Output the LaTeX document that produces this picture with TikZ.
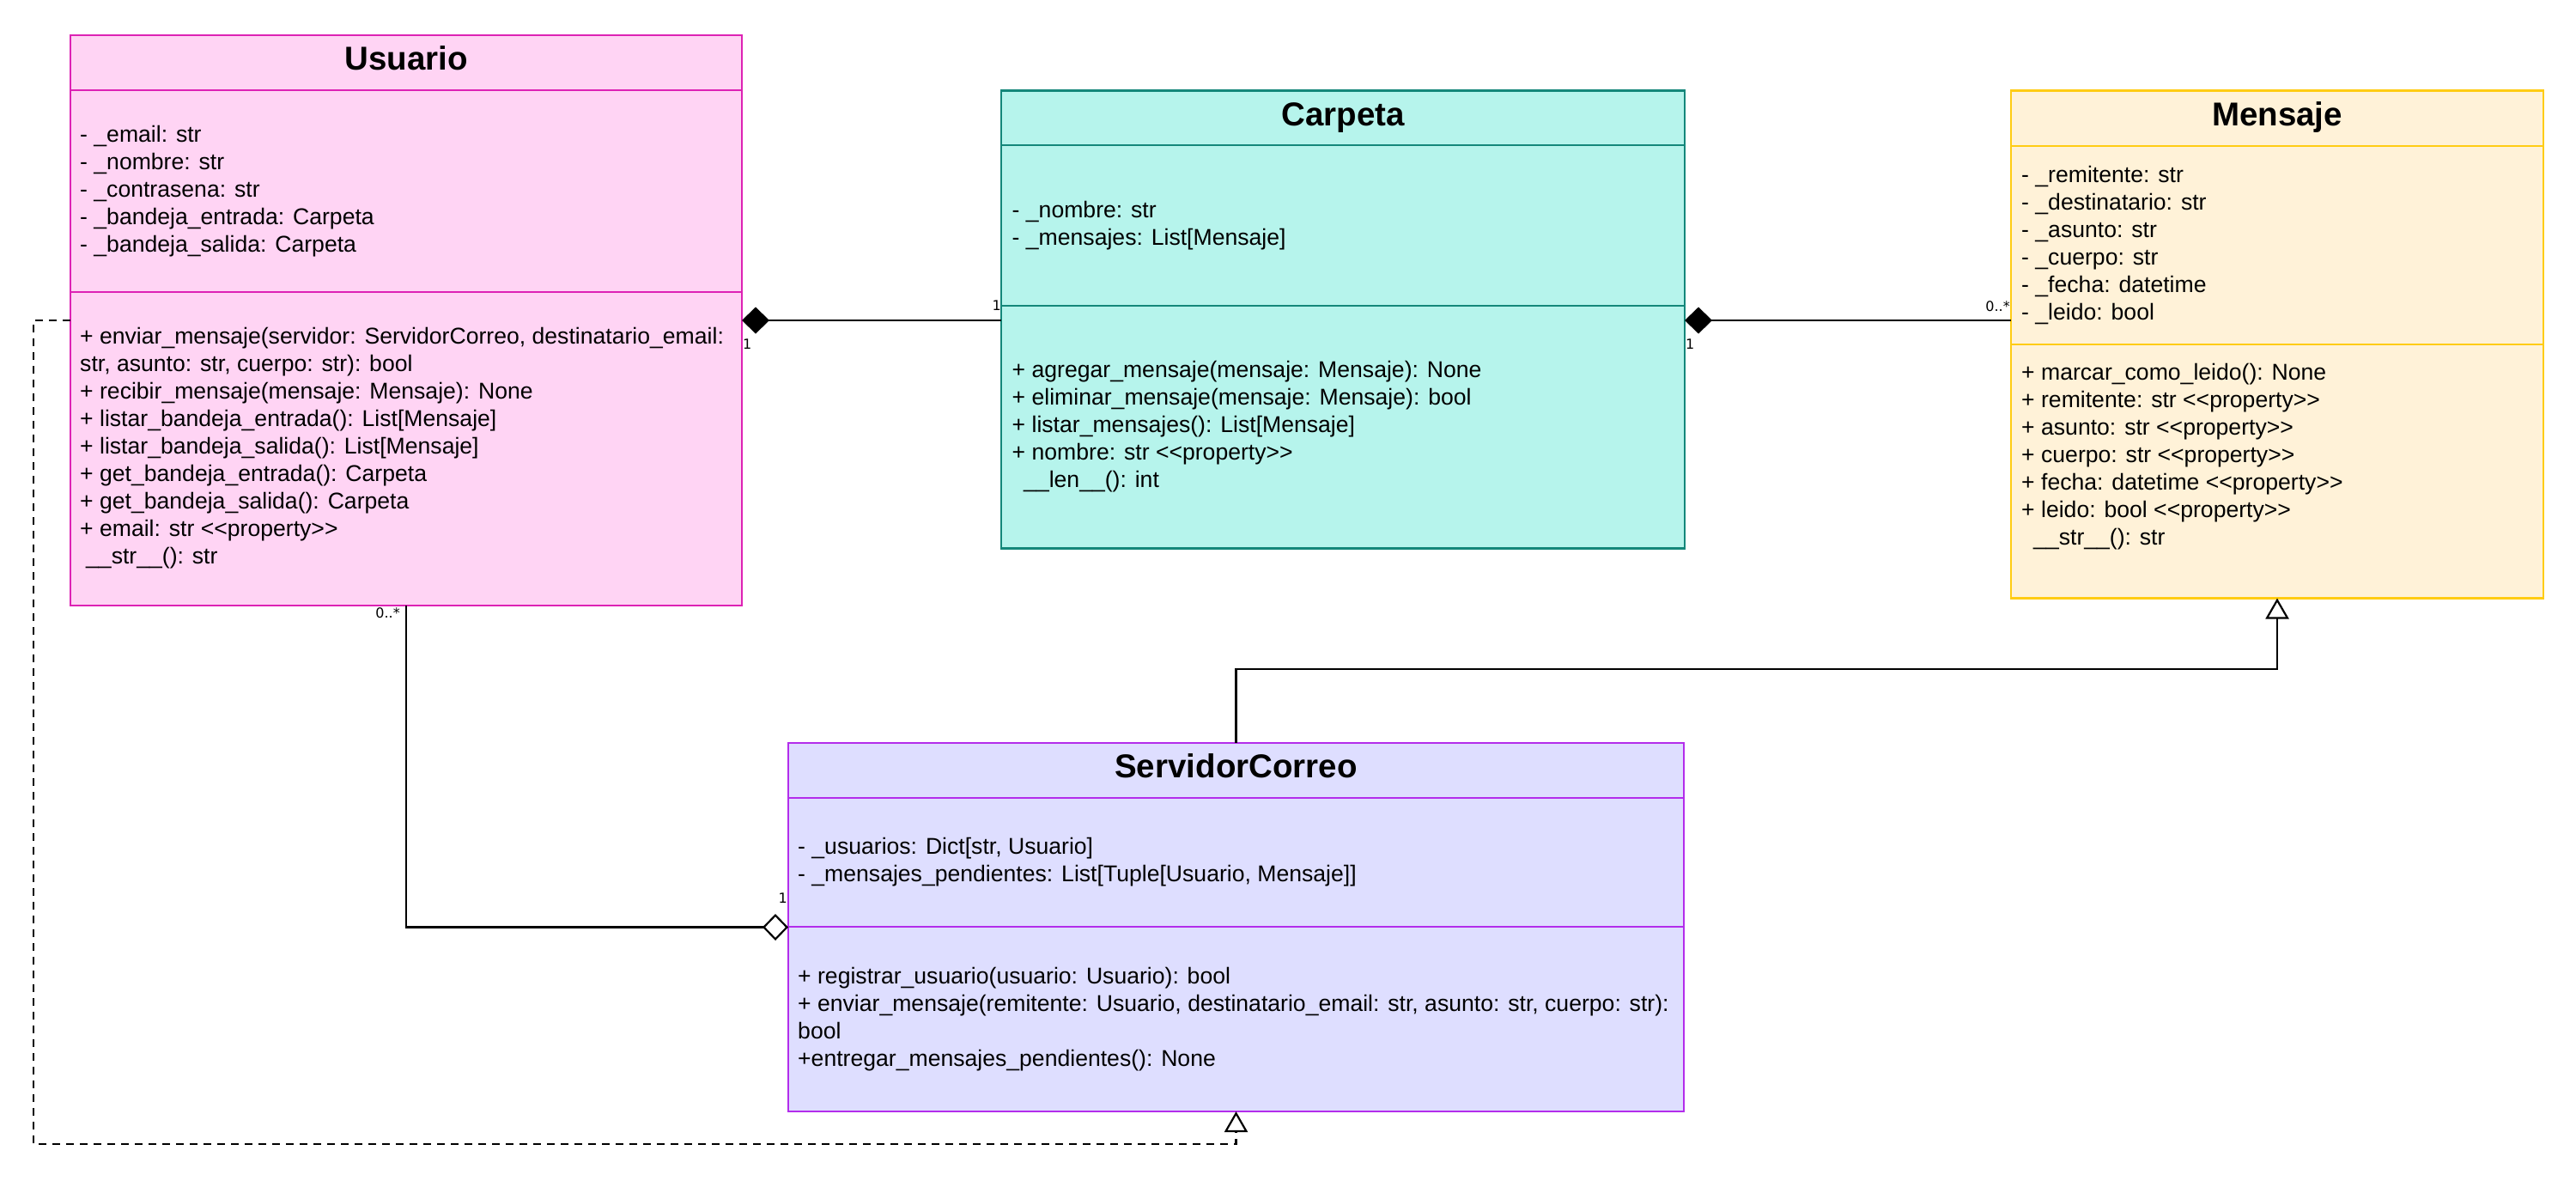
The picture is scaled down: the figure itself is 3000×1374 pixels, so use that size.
\documentclass[tikz,border=0pt]{standalone}
\usepackage{fontspec}
\usetikzlibrary{arrows.meta}
\newfontfamily\umlfont{Liberation Sans}
\newfontfamily\labfont{DejaVu Sans}
\definecolor{usufill}{HTML}{FFD4F4}
\definecolor{usudraw}{HTML}{DD22B4}
\definecolor{carfill}{HTML}{B6F4EC}
\definecolor{cardraw}{HTML}{14877A}
\definecolor{menfill}{HTML}{FFF2D8}
\definecolor{mendraw}{HTML}{FFCC14}
\definecolor{serfill}{HTML}{DEDEFF}
\definecolor{serdraw}{HTML}{B32DEB}
\newcommand\pty{<\kern0pt<property>\kern0pt>}
\newcommand\tline[4]{\node[txt] (#1) at (#2,#3) {#4};}
\tikzset{
  classbox/.style={draw, line width=2.2pt, inner sep=0pt, outer sep=0pt, anchor=north west},
  sepline/.style={line width=2.2pt},
  title/.style={font=\umlfont\bfseries\fontsize{38.5}{46}\selectfont, anchor=base, inner sep=0pt},
  txt/.style={font=\umlfont\fontsize{26.6}{32}\selectfont, anchor=base west, inner sep=0pt},
  mult/.style={font=\labfont\fontsize{16}{19}\selectfont, inner sep=0pt},
  conn/.style={line width=2.2pt, black},
  compo/.style={conn, {Diamond[length=32pt,width=31pt]}-},
  aggr/.style={conn, -{Diamond[length=30pt,width=31pt,fill=white]}},
  gener/.style={conn, -{Triangle[length=24pt,width=27pt,fill=white]}},
  realiz/.style={conn, dash pattern=on 9pt off 7pt, -{Triangle[length=24pt,width=27pt,fill=white]}},
}
\begin{document}
\begin{tikzpicture}[x=1pt,y=-1pt]
\useasboundingbox[fill=white] (0,0) rectangle (3000,1374);

% ---------- Usuario ----------
\node[classbox, fill=usufill, draw=usudraw, minimum width=782pt, minimum height=664pt] (usuario) at (82,41) {};
\draw[sepline, usudraw] (usuario.west |- 0,105) -- (usuario.east |- 0,105);
\draw[sepline, usudraw] (usuario.west |- 0,340) -- (usuario.east |- 0,340);
\node[title] (usuT) at (473,81.5) {Usuario};
\tline{ua1}{93}{165}{- \_email: str}
\tline{ua2}{93}{197}{- \_nombre: str}
\tline{ua3}{93}{229}{- \_contrasena: str}
\tline{ua4}{93}{261}{- \_bandeja\_entrada: Carpeta}
\tline{ua5}{93}{293}{- \_bandeja\_salida: Carpeta}
\tline{um1}{93}{400}{+ enviar\_mensaje(servidor: ServidorCorreo, destinatario\_email:}
\tline{um2}{93}{432}{str, asunto: str, cuerpo: str): bool}
\tline{um3}{93}{464}{+ recibir\_mensaje(mensaje: Mensaje): None}
\tline{um4}{93}{496}{+ listar\_bandeja\_entrada(): List[Mensaje]}
\tline{um5}{93}{528}{+ listar\_bandeja\_salida(): List[Mensaje]}
\tline{um6}{93}{560}{+ get\_bandeja\_entrada(): Carpeta}
\tline{um7}{93}{592}{+ get\_bandeja\_salida(): Carpeta}
\tline{um8}{93}{624}{+ email: str \pty}
\tline{um9}{100}{656}{\_\_str\_\_(): str}

% ---------- Carpeta ----------
\node[classbox, fill=carfill, draw=cardraw, minimum width=796pt, minimum height=533pt] (carpeta) at (1166,105.5) {};
\draw[sepline, cardraw] (carpeta.west |- 0,169) -- (carpeta.east |- 0,169);
\draw[sepline, cardraw] (carpeta.west |- 0,356) -- (carpeta.east |- 0,356);
\node[title] (carT) at (1564,146) {Carpeta};
\tline{ca1}{1178.5}{253}{- \_nombre: str}
\tline{ca2}{1178.5}{285}{- \_mensajes: List[Mensaje]}
\tline{cm1}{1178.5}{439}{+ agregar\_mensaje(mensaje: Mensaje): None}
\tline{cm2}{1178.5}{471}{+ eliminar\_mensaje(mensaje: Mensaje): bool}
\tline{cm3}{1178.5}{503}{+ listar\_mensajes(): List[Mensaje]}
\tline{cm4}{1178.5}{535}{+ nombre: str \pty}
\tline{cm5}{1192}{567}{\_\_len\_\_(): int}

% ---------- Mensaje ----------
\node[classbox, fill=menfill, draw=mendraw, minimum width=620pt, minimum height=591pt] (mensaje) at (2342,105.5) {};
\draw[sepline, mendraw] (mensaje.west |- 0,170) -- (mensaje.east |- 0,170);
\draw[sepline, mendraw] (mensaje.west |- 0,401) -- (mensaje.east |- 0,401);
\node[title] (menT) at (2652,146.3) {Mensaje};
\tline{ma1}{2354}{212.5}{- \_remitente: str}
\tline{ma2}{2354}{244.5}{- \_destinatario: str}
\tline{ma3}{2354}{276.5}{- \_asunto: str}
\tline{ma4}{2354}{308.5}{- \_cuerpo: str}
\tline{ma5}{2354}{340.5}{- \_fecha: datetime}
\tline{ma6}{2354}{372.5}{- \_leido: bool}
\tline{mm1}{2354}{442}{+ marcar\_como\_leido(): None}
\tline{mm2}{2354}{474}{+ remitente: str \pty}
\tline{mm3}{2354}{506}{+ asunto: str \pty}
\tline{mm4}{2354}{538}{+ cuerpo: str \pty}
\tline{mm5}{2354}{570}{+ fecha: datetime \pty}
\tline{mm6}{2354}{602}{+ leido: bool \pty}
\tline{mm7}{2368}{634}{\_\_str\_\_(): str}

% ---------- ServidorCorreo ----------
\node[classbox, fill=serfill, draw=serdraw, minimum width=1043pt, minimum height=429pt] (servidor) at (918,865) {};
\draw[sepline, serdraw] (servidor.west |- 0,929) -- (servidor.east |- 0,929);
\draw[sepline, serdraw] (servidor.west |- 0,1079) -- (servidor.east |- 0,1079);
\node[title] (serT) at (1439.5,905.2) {ServidorCorreo};
\tline{sa1}{929}{994}{- \_usuarios: Dict[str, Usuario]}
\tline{sa2}{929}{1026}{- \_mensajes\_pendientes: List[Tuple[Usuario, Mensaje]]}
\tline{sm1}{929}{1145}{+ registrar\_usuario(usuario: Usuario): bool}
\tline{sm2}{929}{1177}{+ enviar\_mensaje(remitente: Usuario, destinatario\_email: str, asunto: str, cuerpo: str):}
\tline{sm3}{929}{1209}{bool}
\tline{sm4}{929}{1241}{+entregar\_mensajes\_pendientes(): None}

% ---------- connectors ----------
\coordinate (c1) at (0,373);
\coordinate (g1) at (0,779);
\coordinate (d1) at (39,1332);

\draw[compo] (usuario.east |- c1) -- (carpeta.west |- c1);
\draw[compo] (carpeta.east |- c1) -- (mensaje.west |- c1);
\draw[aggr] (usuario.south) |- (servidor.west);
\draw[gener] (servidor.north) -- (servidor.north |- g1) -| (mensaje.south);
\draw[realiz] (usuario.west |- c1) -| (d1) -| (servidor.south);

% ---------- multiplicities ----------
\node[mult, anchor=base west] (m1) at (865,406.7) {1};
\node[mult, anchor=base east] (m2) at (1166,361.7) {1};
\node[mult, anchor=base west] (m3) at (1963,406.7) {1};
\node[mult, anchor=base east] (m4) at (2341,362.3) {0..*};
\node[mult, anchor=base east] (m5) at (466,719) {0..*};
\node[mult, anchor=base east] (m6) at (917,1051) {1};
\end{tikzpicture}
\end{document}
